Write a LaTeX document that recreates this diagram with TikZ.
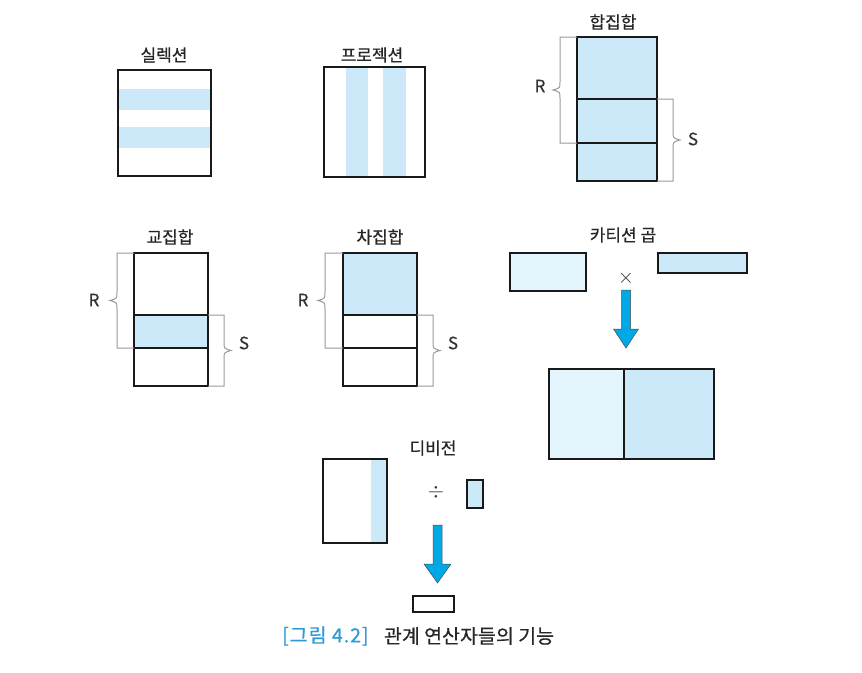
\documentclass[tikz,border=0pt]{standalone}
\usepackage{fontspec}
\setmainfont{Noto Sans CJK KR}[FakeBold=0.6]
\usetikzlibrary{positioning}
\definecolor{paleblue}{HTML}{CBE9F9}
\definecolor{paleblueB}{HTML}{E3F4FD}
\definecolor{arrowblue}{HTML}{00A8E6}
\definecolor{capblue}{HTML}{2E9BD6}
\tikzset{
  rel/.style={draw=black!90, line width=2.4pt},
  brk/.style={draw=black!40, line width=1pt},
  opname/.style={font=\fontsize{17}{19}\selectfont, text=black!85, inner sep=0pt},
  setname/.style={font=\fontsize{17}{19}\selectfont, text=black!80, inner sep=0pt},
  fatarrow/.style={fill=arrowblue, draw=black!70, line width=0.5pt},
}
% bracket with a brace tip: x of line, top y, bottom y, x of box edge
\newcommand\leftbrk[4]{\draw[brk] (#4,#2) -- (#1,#2) -- (#1,{(#2+#3)/2-8}) .. controls (#1,{(#2+#3)/2-2}) .. ({#1-7},{(#2+#3)/2}) .. controls (#1,{(#2+#3)/2+2}) .. (#1,{(#2+#3)/2+8}) -- (#1,#3) -- (#4,#3);}
\newcommand\rightbrk[4]{\draw[brk] (#4,#2) -- (#1,#2) -- (#1,{(#2+#3)/2-8}) .. controls (#1,{(#2+#3)/2-2}) .. ({#1+7},{(#2+#3)/2}) .. controls (#1,{(#2+#3)/2+2}) .. (#1,{(#2+#3)/2+8}) -- (#1,#3) -- (#4,#3);}
% block arrow: centre x, top y, tip y, half width of head
\newcommand\blockarrow[4]{\draw[fatarrow] ({#1-4.5},#2) -- ({#1+4.5},#2) -- ({#1+4.5},{#3-19}) -- ({#1+#4},{#3-19}) -- (#1,#3) -- ({#1-#4},{#3-19}) -- ({#1-4.5},{#3-19}) -- cycle;}

\begin{document}
\begin{tikzpicture}[x=1pt, y=-1pt]
  \useasboundingbox (0,0) rectangle (862,672);

  % selection
  \node[opname] (selname) at (164,55) {실렉션};
  \fill[paleblue] (119,89) rectangle (210,110);
  \fill[paleblue] (119,127) rectangle (210,148);
  \draw[rel] (118,70) rectangle (211,176);

  % projection
  \node[opname] (projname) at (372,55) {프로젝션};
  \fill[paleblue] (346,68) rectangle (368,176);
  \fill[paleblue] (383,68) rectangle (406,176);
  \draw[rel] (324,67) rectangle (425,177);

  % union
  \node[opname] (uniname) at (613,22) {합집합};
  \draw[rel, fill=paleblue] (577,37) rectangle (657,181);
  \draw[rel] (577,99) -- (657,99);
  \draw[rel] (577,143) -- (657,143);
  \leftbrk{560}{37}{143}{577}
  \rightbrk{673}{99}{181}{657}
  \node[setname] (uniR) at (540,86) {R};
  \node[setname] (uniS) at (693,139) {S};

  % intersection
  \node[opname] (intname) at (170,237) {교집합};
  \fill[paleblue] (134,315) rectangle (208,348);
  \draw[rel] (134,253) rectangle (208,386);
  \draw[rel] (134,315) -- (208,315);
  \draw[rel] (134,348) -- (208,348);
  \leftbrk{117}{253}{348}{134}
  \rightbrk{224}{315}{386}{208}
  \node[setname] (intR) at (94,300) {R};
  \node[setname] (intS) at (244,343) {S};

  % difference
  \node[opname] (difname) at (380,237) {차집합};
  \fill[paleblue] (343,253) rectangle (417,315);
  \draw[rel] (343,253) rectangle (417,386);
  \draw[rel] (343,315) -- (417,315);
  \draw[rel] (343,348) -- (417,348);
  \leftbrk{325}{253}{348}{343}
  \rightbrk{433}{315}{386}{417}
  \node[setname] (difR) at (303,300) {R};
  \node[setname] (difS) at (453,343) {S};

  % cartesian product
  \node[opname] (carname) at (623,235) {카티션 곱};
  \draw[rel, fill=paleblueB] (510,253) rectangle (586,291);
  \draw[rel, fill=paleblue] (658,253) rectangle (747,273);
  \node[setname, font=\fontsize{20}{20}\selectfont] (cartimes) at (626,278) {$\times$};
  \blockarrow{626}{290}{348}{12.5}
  \fill[paleblueB] (549,369) rectangle (624,459);
  \fill[paleblue] (624,369) rectangle (714,459);
  \draw[rel] (549,369) rectangle (714,459);
  \draw[rel] (624,369) -- (624,459);

  % division
  \node[opname] (divname) at (433,448) {디비전};
  \fill[paleblue] (371,460) rectangle (387,542);
  \draw[rel] (323,459) rectangle (387,543);
  \node[setname, font=\fontsize{20}{20}\selectfont] (divsign) at (436,492) {$\div$};
  \draw[rel, fill=paleblue] (467,480) rectangle (483,508);
  \blockarrow{437.5}{525}{583}{13.5}
  \draw[rel, fill=white] (413,596) rectangle (454,612);

  % caption
  \node[anchor=west, inner sep=0pt, font=\fontsize{19.5}{22}\selectfont\addfontfeature{LetterSpace=5}, text=capblue] (capnum) at (282,636) {[그림 4.2]};
  \node[right=15pt of capnum, inner sep=0pt, font=\fontsize{19.5}{22}\selectfont, text=black!85] (captext) {관계 연산자들의 기능};
\end{tikzpicture}
\end{document}
